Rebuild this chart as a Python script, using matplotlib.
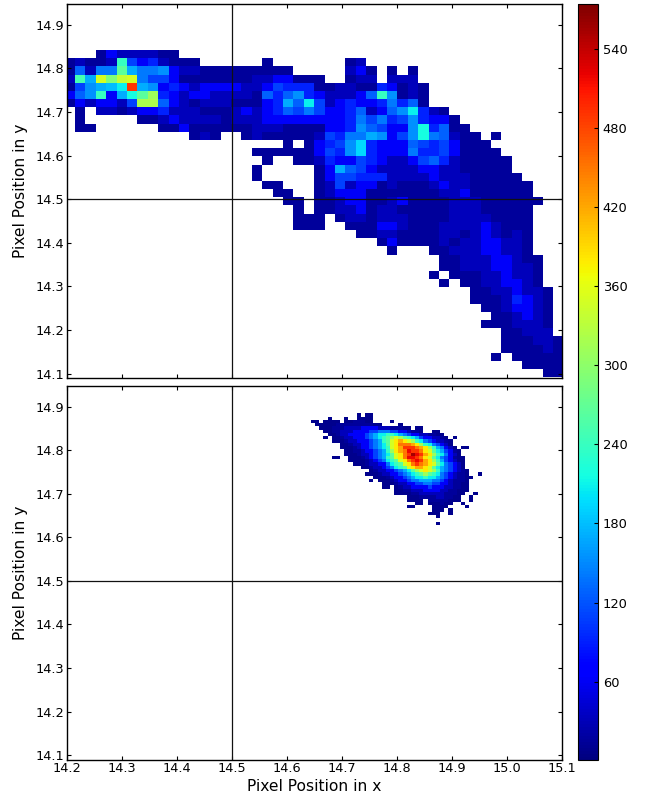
import numpy as np
import matplotlib
matplotlib.use("Agg")
import matplotlib.pyplot as plt
from matplotlib.colors import Normalize

# colour-read levels -> approximate counts per bin
LEVEL_COUNTS = {'1': 9, '2': 15, '3': 32, '4': 62, '5': 92, '6': 110, '7': 128, '8': 142, '9': 154,
                'a': 170, 'b': 180, 'c': 195, 'd': 207, 'e': 218, 'f': 240, 'g': 250, 'h': 265,
                'i': 290, 'j': 310, 'k': 320, 'l': 335, 'm': 350, 'o': 380, 'q': 420, 's': 450,
                'u': 470, 'v': 490, 'x': 520, 'y': 555}

TOP_X_START, TOP_Y_START, TOP_BIN_X, TOP_BIN_Y = 14.1956, 14.8425, 0.01891, 0.01878
TOP_FIRST_COLUMN = [3, 0, 0, 0, 0, 0, 0, 1, 1, 1, 12, 21, 18, 19, 18, 18, 19, 20, 21, 22,
                    22, 22, 28, 30, 31, 36, 36, 35, 36, 39, 39, 40, 41, 40, 42, 42, 42, 41, 44, 46]
TOP_ROWS = [
    "24333322",
    "23223f6453222......2.......23",
    "27388ha889433222222222.....342.2.2",
    "3gamilm8664" "2222222" "3344222" "..233.333",
    "269abdva9454" "344443346555" "22332254232",
    "479f4aehj543" "443333" "275795" "433347f9232",
    "2434436kk743" "233322" "245a7d" "63454458572",
    "2." "3323445333" "2223434576" "8" "644573479d532",
    "2.....22343333233344444" "44458685695442",
    "22......" "224222222333222" "244597644" "9e5722",
    "232..2322222" "36588a9469e87322.2",
    "2.2" "4569c544476564222",
    "222222" "4659c5444855642222",
    "2..22" "3544654334675322222",
    "2....." "24a7643333443322222",
    "2....." "24665553333433322222",
    "22..." "236344232223433222222",
    "22.." "234442222222334222222",
    "22." "2234422342222333222222",
    "2." "223342332222233322222",
    "222." "2332333222233332222",
    "222.." "222443222333343222",
    "22332222332343232",
    "242222323344332",
    "2..." "2233344332",
    "2233344322",
    "2233344332",
    "2." "222334332",
    "2." "22334432",
    "22334332",
    "22235432",
    "2234432",
    "223432",
    "2223332",
    "22333",
    "222332",
    "222232",
    "2.22222",
    "2222",
    "22",
]

BOTTOM_X_START, BOTTOM_Y_START, BOTTOM_BIN_X, BOTTOM_BIN_Y = 14.6358, 14.8854, 0.00758, 0.00754
BOTTOM_FIRST_COLUMN = [12, 5, 1, 2, 3, 4, 5, 4, 6, 8, 8, 9, 9, 6, 10, 11, 13, 15, 14, 16,
                       15, 18, 18, 21, 21, 24, 24, 26, 24, 30, 29, 31, 31, 31]
BOTTOM_ROWS = [
    "1.11",
    "1...1..1111",
    "11.1111.1122211....1",
    "1111122222222211....1",
    "1112223333444433322211.11",
    "112233344446688866443221..11",
    "1123344446" "8addffda86" "44332211",
    "1." "11233444" "68adfhjmjhfda6" "443321" ".1",
    "111233444" "68afhmoqomjfd" "8643321",
    "1123344" "68adhmosssqo" "jfd86431",
    "11123446" "8adfmoqvvvsqojfa8431" ".11",
    "11223446" "8afjoqsxvvsomhda6421",
    "11123346" "8adhmosvyxvqojfd8431",
    "11..111234" "68afhmosxxvsomhd864211",
    "11112346" "8dfhmosvxvqojfa64311",
    "11123344" "8dfhmosvsqomhd86431",
    "112334" "68dfhmoqqomhda86431",
    "123344" "68adhjmomjfa864321",
    "111233446" "8adfhjhfd864322" "1..1",
    "1112344" "68addfdda86432211",
    "1.111234468" "8aaa886432221",
    "1112334466" "88664432211",
    "11.123344446" "444332211",
    "1122333444433" "22111",
    "11112233333322211" "..1",
    "1112222332211" "..1",
    "1111." "22222111" "..1",
    "11." "111211" "..1",
    "11...." "1111" "....1",
    "111.1",
    "111..1",
    "1",
    "",
    "1",
]

Y_TICKS = [14.1, 14.2, 14.3, 14.4, 14.5, 14.6, 14.7, 14.8, 14.9]
X_TICKS = [14.2, 14.3, 14.4, 14.5, 14.6, 14.7, 14.8, 14.9, 15.0, 15.1]
CBAR_TICKS = [60, 120, 180, 240, 300, 360, 420, 480, 540]
COUNT_MIN, COUNT_MAX = 1, 574
CENTER = 14.5


def to_grid(rows, first_columns):
    ncols = max(s + len(r) for s, r in zip(first_columns, rows))
    grid = np.full((len(rows), ncols), np.nan)
    for i, (s, r) in enumerate(zip(first_columns, rows)):
        for j, ch in enumerate(r):
            if ch in LEVEL_COUNTS:
                grid[i, s + j] = LEVEL_COUNTS[ch]
    return np.ma.masked_invalid(grid)


W, H = 646, 795
fig = plt.figure(figsize=(W / 100, H / 100), dpi=100)


def place(left, top, right, bottom):
    return fig.add_axes([left / W, 1 - bottom / H, (right - left) / W, (bottom - top) / H])


ax_top = place(67, 4, 562, 378)
ax_bot = place(67, 386, 562, 759.5)
cax = place(578, 4, 598, 759.5)
norm = Normalize(COUNT_MIN, COUNT_MAX)

panels = [
    (ax_top, TOP_ROWS, TOP_FIRST_COLUMN, TOP_X_START, TOP_Y_START, TOP_BIN_X, TOP_BIN_Y),
    (ax_bot, BOTTOM_ROWS, BOTTOM_FIRST_COLUMN, BOTTOM_X_START, BOTTOM_Y_START, BOTTOM_BIN_X, BOTTOM_BIN_Y),
]
for ax, rows, firsts, x0, y0, dx, dy in panels:
    grid = to_grid(rows, firsts)
    xe = x0 + dx * np.arange(grid.shape[1] + 1)
    ye = y0 - dy * np.arange(grid.shape[0] + 1)
    mesh = ax.pcolormesh(xe, ye, grid, cmap="jet", norm=norm, linewidth=0)
    ax.axvline(CENTER, color="#111111", lw=0.9)
    ax.axhline(CENTER, color="#111111", lw=0.9)
    ax.set_xlim(14.2, 15.1)
    ax.set_ylim(14.0897, 14.948)
    ax.set_xticks(X_TICKS)
    ax.set_yticks(Y_TICKS)
    ax.tick_params(direction="in", top=True, right=True, length=2.6, width=0.8, labelsize=9.3)
    ax.tick_params(axis="y", pad=2.2)
    ax.tick_params(axis="x", pad=2.0)
    ax.set_ylabel("Pixel Position in y", fontsize=11.2)
    ax.yaxis.set_label_coords(-0.078, 0.5)
    for s in ax.spines.values():
        s.set_linewidth(1.0)
ax_top.tick_params(labelbottom=False)
ax_bot.set_xlabel("Pixel Position in x", fontsize=11.2)
ax_bot.xaxis.set_label_coords(0.5, -0.052)

cb = fig.colorbar(mesh, cax=cax, ticks=CBAR_TICKS)
cb.ax.tick_params(direction="in", length=2.6, width=0.8, labelsize=9.4, pad=3.4)
cb.outline.set_linewidth(0.8)

fig.savefig("out.png", dpi=100)
